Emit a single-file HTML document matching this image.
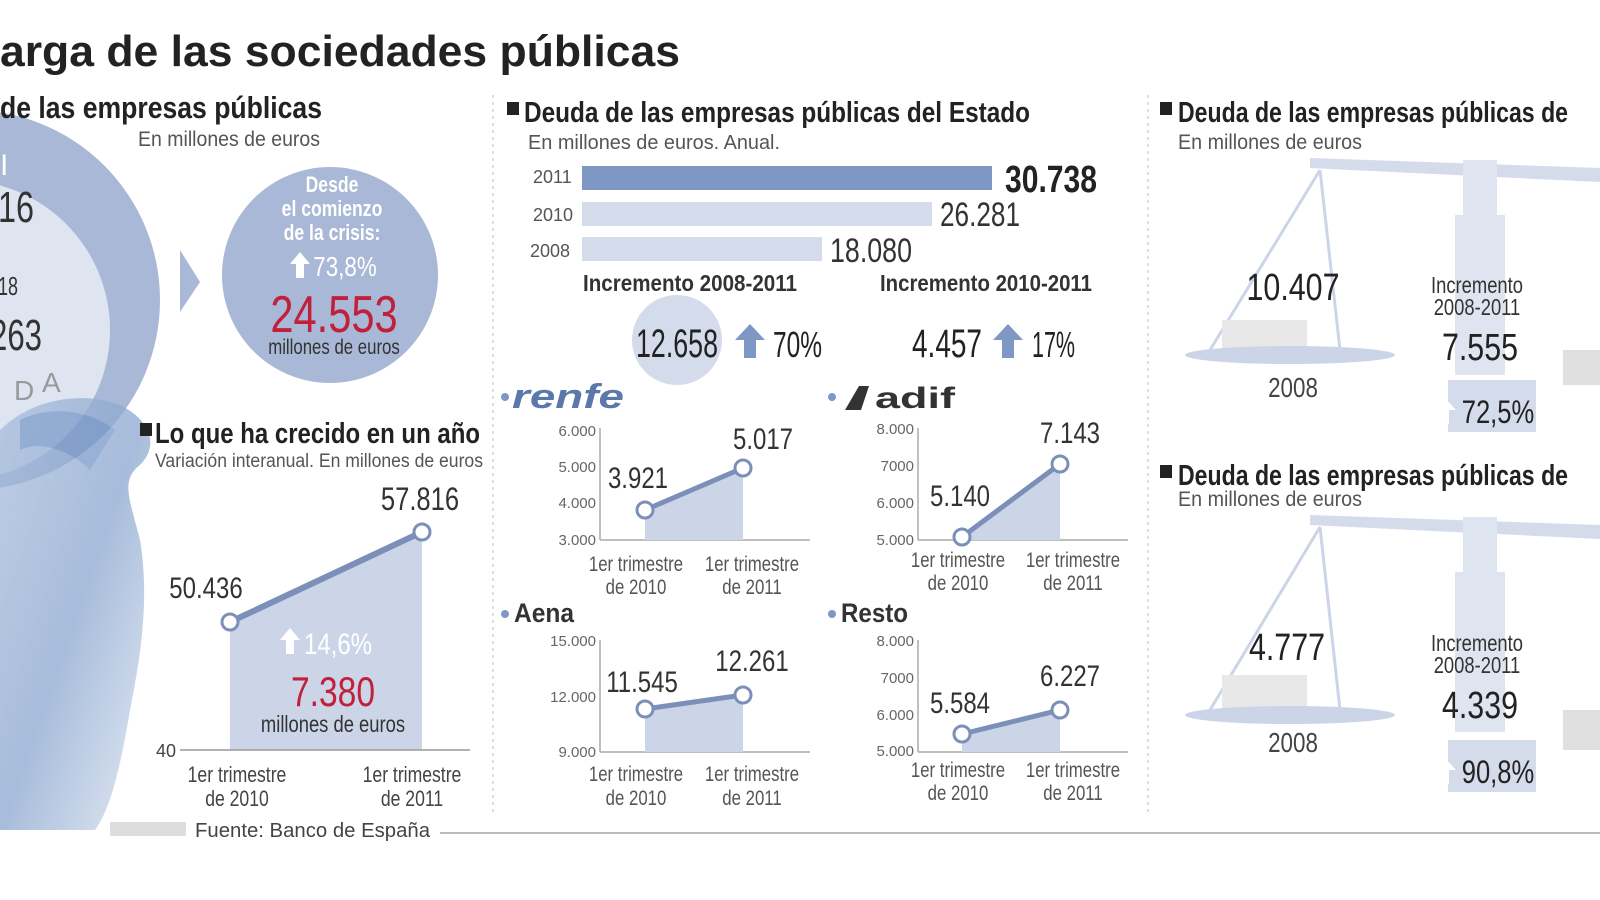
<!DOCTYPE html>
<html><head><meta charset="utf-8"><style>
html,body{margin:0;padding:0;background:#fff;}
svg{display:block;}
text{font-family:"Liberation Sans Narrow","Liberation Sans",sans-serif;}
.s{transform-box:fill-box;transform-origin:center;transform:scaleX(.8);}
</style></head><body>
<svg width="1600" height="900" viewBox="0 0 1600 900" xmlns="http://www.w3.org/2000/svg">
<defs>
<linearGradient id="fig" x1="0" y1="0" x2="1" y2="1"><stop offset="0" stop-color="#a9bedd"/><stop offset="0.5" stop-color="#8aa6cf"/><stop offset="1" stop-color="#dbe4f1"/></linearGradient>
</defs>
<rect width="1600" height="900" fill="#fff"/>
<text x="0" y="66" font-size="44" font-weight="bold" fill="#222" textLength="680" lengthAdjust="spacingAndGlyphs">arga de las sociedades públicas</text>

<circle cx="-30" cy="300" r="190" fill="#a9b8d6"/>
<circle cx="-40" cy="330" r="150" fill="#dfe5f0"/>
<text x="0" y="118" font-size="31" font-weight="bold" fill="#222" textLength="322" lengthAdjust="spacingAndGlyphs">de las empresas públicas</text>
<text x="138" y="146" font-size="21" fill="#555" textLength="182" lengthAdjust="spacingAndGlyphs">En millones de euros</text>
<text x="0" y="175" font-size="30" fill="#fff">I</text>
<text x="-2" y="222" font-size="44" fill="#333" textLength="36" lengthAdjust="spacingAndGlyphs">16</text>
<text x="-2" y="295" font-size="26" fill="#333" textLength="20" lengthAdjust="spacingAndGlyphs">18</text>
<text x="-10" y="350" font-size="44" fill="#333" textLength="52" lengthAdjust="spacingAndGlyphs">263</text>
<text x="14" y="400" font-size="28" fill="#999">D</text>
<text x="42" y="392" font-size="28" fill="#999">A</text>
<path d="M180 250 L200 282 L180 312 Z" fill="#a9b8d6"/>
<circle cx="330" cy="275" r="108" fill="#a9b8d6"/>
<g fill="#fff" font-size="22" font-weight="bold" text-anchor="middle">
<text class="s" x="332" y="192">Desde</text><text class="s" x="332" y="216">el comienzo</text><text class="s" x="332" y="240">de la crisis:</text>
<text class="s" x="345" y="276" font-weight="normal" font-size="28">73,8%</text></g>
<path d="M290 264 l10 -12 l10 12 h-6 v14 h-8 v-14z" fill="#fff"/>
<text class="s" x="334" y="332" font-size="52" fill="#c0203a" text-anchor="middle">24.553</text>
<text class="s" x="334" y="354" font-size="21" fill="#333" text-anchor="middle">millones de euros</text>
<g opacity="0.75">
<path d="M0 430 C30 400 80 390 120 405 C150 420 160 445 140 465 C120 480 130 500 140 540 C150 600 140 660 130 710 C120 770 110 810 95 830 L0 830 Z" fill="url(#fig)"/>
<path d="M20 420 C50 405 90 410 115 430 L90 470 C70 450 40 440 20 450Z" fill="#6b8fc2" opacity="0.7"/>
</g>
<rect x="140" y="423" width="12" height="13" fill="#222"/>
<text x="155" y="443" font-size="29" font-weight="bold" fill="#222" textLength="325" lengthAdjust="spacingAndGlyphs">Lo que ha crecido en un año</text>
<text x="155" y="467" font-size="19" fill="#555" textLength="328" lengthAdjust="spacingAndGlyphs">Variación interanual.  En millones de euros</text>
<path d="M230 622 L422 532 L422 750 L230 750 Z" fill="#ccd5e8"/>
<line x1="230" y1="622" x2="422" y2="532" stroke="#7b8fb8" stroke-width="6"/>
<circle cx="230" cy="622" r="8" fill="#fff" stroke="#7b8fb8" stroke-width="3"/>
<circle cx="422" cy="532" r="8" fill="#fff" stroke="#7b8fb8" stroke-width="3"/>
<line x1="180" y1="750" x2="470" y2="750" stroke="#999" stroke-width="1.5"/>
<text x="176" y="757" font-size="18" fill="#444" text-anchor="end">40</text>
<text class="s" x="206" y="598" font-size="30" fill="#333" text-anchor="middle">50.436</text>
<text class="s" x="420" y="510" font-size="32" fill="#333" text-anchor="middle">57.816</text>
<path d="M280 640 l10 -12 l10 12 h-6 v14 h-8 v-14z" fill="#fff"/>
<text class="s" x="338" y="654" font-size="30" fill="#fff" text-anchor="middle">14,6%</text>
<text class="s" x="333" y="706" font-size="42" fill="#c0203a" text-anchor="middle">7.380</text>
<text class="s" x="333" y="732" font-size="23" fill="#333" text-anchor="middle">millones de euros</text>
<g font-size="22" fill="#444" text-anchor="middle">
<text class="s" x="237" y="782">1er trimestre</text><text class="s" x="237" y="806">de 2010</text>
<text class="s" x="412" y="782">1er trimestre</text><text class="s" x="412" y="806">de 2011</text></g>
<rect x="110" y="822" width="76" height="14" fill="#ddd"/>
<text x="195" y="837" font-size="20" fill="#444" textLength="235" lengthAdjust="spacingAndGlyphs">Fuente: Banco de España</text>
<line x1="440" y1="833" x2="1600" y2="833" stroke="#bbb" stroke-width="2"/>

<line x1="493" y1="95" x2="493" y2="815" stroke="#ddd" stroke-width="2" stroke-dasharray="3 4"/>
<line x1="1148" y1="95" x2="1148" y2="815" stroke="#ddd" stroke-width="2" stroke-dasharray="3 4"/>

<rect x="507" y="102" width="12" height="13" fill="#222"/>
<text x="524" y="122" font-size="29" font-weight="bold" fill="#222" textLength="506" lengthAdjust="spacingAndGlyphs">Deuda de las empresas públicas del Estado</text>
<text x="528" y="149" font-size="20" fill="#555" textLength="252" lengthAdjust="spacingAndGlyphs">En millones de euros.  Anual.</text>
<g font-size="18" fill="#555"><text x="533" y="183">2011</text><text x="533" y="221">2010</text><text x="530" y="257">2008</text></g>
<rect x="582" y="166" width="410" height="24" fill="#7f97c4"/>
<rect x="582" y="202" width="350" height="24" fill="#d4dbea"/>
<rect x="582" y="237" width="240" height="24" fill="#d4dbea"/>
<text x="1005" y="192" font-size="38" font-weight="bold" fill="#222" textLength="92" lengthAdjust="spacingAndGlyphs">30.738</text>
<text x="940" y="226" font-size="34" fill="#333" textLength="80" lengthAdjust="spacingAndGlyphs">26.281</text>
<text x="830" y="262" font-size="34" fill="#333" textLength="82" lengthAdjust="spacingAndGlyphs">18.080</text>
<text x="583" y="291" font-size="23" font-weight="bold" fill="#333" textLength="214" lengthAdjust="spacingAndGlyphs">Incremento 2008-2011</text>
<text x="880" y="291" font-size="23" font-weight="bold" fill="#333" textLength="212" lengthAdjust="spacingAndGlyphs">Incremento 2010-2011</text>
<circle cx="677" cy="340" r="45" fill="#d4dbea"/>
<text x="636" y="357" font-size="40" fill="#222" textLength="82" lengthAdjust="spacingAndGlyphs">12.658</text>
<path d="M735 340 l15 -16 l15 16 h-9 v18 h-12 v-18z" fill="#7f97c4"/>
<text x="773" y="357" font-size="36" fill="#222" textLength="49" lengthAdjust="spacingAndGlyphs">70%</text>
<text x="912" y="357" font-size="40" fill="#222" textLength="70" lengthAdjust="spacingAndGlyphs">4.457</text>
<path d="M993 340 l15 -16 l15 16 h-9 v18 h-12 v-18z" fill="#7f97c4"/>
<text x="1032" y="357" font-size="36" fill="#222" textLength="43" lengthAdjust="spacingAndGlyphs">17%</text>

<circle cx="505" cy="397" r="4" fill="#7f97c4"/>
<text x="512" y="408" font-size="34" font-style="italic" font-weight="bold" fill="#5a78aa" textLength="112" lengthAdjust="spacingAndGlyphs">renfe</text>
<circle cx="832" cy="397" r="4" fill="#7f97c4"/>
<path d="M845 410 l14 -24 l10 0 l-8 24z" fill="#333"/>
<text x="875" y="408" font-size="30" font-weight="bold" fill="#333" textLength="80" lengthAdjust="spacingAndGlyphs">adif</text>

<g font-size="15" fill="#666" text-anchor="end">
<text x="596" y="436">6.000</text><text x="596" y="472">5.000</text><text x="596" y="508">4.000</text><text x="596" y="545">3.000</text>
<text x="914" y="434">8.000</text><text x="914" y="471">7000</text><text x="914" y="508">6.000</text><text x="914" y="545">5.000</text>
<text x="596" y="646">15.000</text><text x="596" y="702">12.000</text><text x="596" y="757">9.000</text>
<text x="914" y="646">8.000</text><text x="914" y="683">7000</text><text x="914" y="720">6.000</text><text x="914" y="756">5.000</text></g>
<g stroke="#aaa" stroke-width="1.5">
<line x1="600" y1="428" x2="600" y2="540"/><line x1="600" y1="540" x2="810" y2="540"/>
<line x1="918" y1="428" x2="918" y2="540"/><line x1="918" y1="540" x2="1128" y2="540"/>
<line x1="600" y1="640" x2="600" y2="752"/><line x1="600" y1="752" x2="810" y2="752"/>
<line x1="918" y1="640" x2="918" y2="752"/><line x1="918" y1="752" x2="1128" y2="752"/></g>
<g fill="#ccd5e8">
<path d="M645 510 L743 468 L743 540 L645 540Z"/>
<path d="M962 537 L1060 464 L1060 540 L962 540Z"/>
<path d="M645 709 L743 695 L743 752 L645 752Z"/>
<path d="M962 734 L1060 710 L1060 752 L962 752Z"/></g>
<g stroke="#7b8fb8" stroke-width="5">
<line x1="645" y1="510" x2="743" y2="468"/><line x1="962" y1="537" x2="1060" y2="464"/>
<line x1="645" y1="709" x2="743" y2="695"/><line x1="962" y1="734" x2="1060" y2="710"/></g>
<g fill="#fff" stroke="#7b8fb8" stroke-width="3">
<circle cx="645" cy="510" r="8"/><circle cx="743" cy="468" r="8"/>
<circle cx="962" cy="537" r="8"/><circle cx="1060" cy="464" r="8"/>
<circle cx="645" cy="709" r="8"/><circle cx="743" cy="695" r="8"/>
<circle cx="962" cy="734" r="8"/><circle cx="1060" cy="710" r="8"/></g>
<g font-size="30" fill="#333" text-anchor="middle">
<text class="s" x="638" y="488">3.921</text><text class="s" x="763" y="449">5.017</text>
<text class="s" x="960" y="506">5.140</text><text class="s" x="1070" y="443">7.143</text>
<text class="s" x="642" y="692">11.545</text><text class="s" x="752" y="671">12.261</text>
<text class="s" x="960" y="713">5.584</text><text class="s" x="1070" y="686">6.227</text></g>
<circle cx="505" cy="614" r="4" fill="#7f97c4"/>
<text x="514" y="622" font-size="27" font-weight="bold" fill="#333" textLength="60" lengthAdjust="spacingAndGlyphs">Aena</text>
<circle cx="832" cy="614" r="4" fill="#7f97c4"/>
<text x="841" y="622" font-size="27" font-weight="bold" fill="#333" textLength="67" lengthAdjust="spacingAndGlyphs">Resto</text>
<g font-size="21" fill="#555" text-anchor="middle">
<text class="s" x="636" y="571">1er trimestre</text><text class="s" x="636" y="594">de 2010</text>
<text class="s" x="752" y="571">1er trimestre</text><text class="s" x="752" y="594">de 2011</text>
<text class="s" x="958" y="567">1er trimestre</text><text class="s" x="958" y="590">de 2010</text>
<text class="s" x="1073" y="567">1er trimestre</text><text class="s" x="1073" y="590">de 2011</text>
<text class="s" x="636" y="781">1er trimestre</text><text class="s" x="636" y="805">de 2010</text>
<text class="s" x="752" y="781">1er trimestre</text><text class="s" x="752" y="805">de 2011</text>
<text class="s" x="958" y="777">1er trimestre</text><text class="s" x="958" y="800">de 2010</text>
<text class="s" x="1073" y="777">1er trimestre</text><text class="s" x="1073" y="800">de 2011</text></g>

<g>
<path d="M1310 158 L1600 168 L1600 182 L1310 168Z" fill="#d4dbea"/>
<rect x="1463" y="160" width="34" height="60" fill="#dfe5f0"/>
<rect x="1455" y="215" width="50" height="160" fill="#dfe5f0"/>
<path d="M1320 170 L1210 350 M1320 170 L1340 350" stroke="#ccd5e8" stroke-width="3" fill="none"/>
<rect x="1222" y="320" width="85" height="30" fill="#e8e8e8"/>
<ellipse cx="1290" cy="355" rx="105" ry="9" fill="#ccd5e8"/>
<rect x="1160" y="102" width="12" height="13" fill="#222"/>
<text x="1178" y="122" font-size="29" font-weight="bold" fill="#222" textLength="390" lengthAdjust="spacingAndGlyphs">Deuda de las empresas públicas de</text>
<text x="1178" y="149" font-size="21" fill="#555" textLength="184" lengthAdjust="spacingAndGlyphs">En millones de euros</text>
<text class="s" x="1293" y="300" font-size="38" fill="#222" text-anchor="middle">10.407</text>
<text class="s" x="1293" y="397" font-size="28" fill="#444" text-anchor="middle">2008</text>
<text class="s" x="1477" y="293" font-size="23" fill="#333" text-anchor="middle">Incremento</text>
<text class="s" x="1477" y="315" font-size="23" fill="#333" text-anchor="middle">2008-2011</text>
<text class="s" x="1480" y="360" font-size="38" fill="#222" text-anchor="middle">7.555</text>
<rect x="1448" y="380" width="88" height="52" fill="#d4dbea"/>
<path d="M1432 410 l12 -13 l12 13 h-7 v14 h-10 v-14z" fill="#fff"/>
<text class="s" x="1498" y="423" font-size="32" fill="#222" text-anchor="middle">72,5%</text>
<rect x="1563" y="350" width="37" height="35" fill="#e0e0e0"/>
</g>
<g>
<path d="M1310 515 L1600 525 L1600 539 L1310 525Z" fill="#d4dbea"/>
<rect x="1463" y="517" width="34" height="60" fill="#dfe5f0"/>
<rect x="1455" y="572" width="50" height="160" fill="#dfe5f0"/>
<path d="M1320 527 L1210 710 M1320 527 L1340 710" stroke="#ccd5e8" stroke-width="3" fill="none"/>
<rect x="1222" y="675" width="85" height="35" fill="#e8e8e8"/>
<ellipse cx="1290" cy="715" rx="105" ry="9" fill="#ccd5e8"/>
<rect x="1160" y="465" width="12" height="13" fill="#222"/>
<text x="1178" y="485" font-size="29" font-weight="bold" fill="#222" textLength="390" lengthAdjust="spacingAndGlyphs">Deuda de las empresas públicas de</text>
<text x="1178" y="506" font-size="21" fill="#555" textLength="184" lengthAdjust="spacingAndGlyphs">En millones de euros</text>
<text class="s" x="1287" y="660" font-size="38" fill="#222" text-anchor="middle">4.777</text>
<text class="s" x="1293" y="752" font-size="28" fill="#444" text-anchor="middle">2008</text>
<text class="s" x="1477" y="651" font-size="23" fill="#333" text-anchor="middle">Incremento</text>
<text class="s" x="1477" y="673" font-size="23" fill="#333" text-anchor="middle">2008-2011</text>
<text class="s" x="1480" y="718" font-size="38" fill="#222" text-anchor="middle">4.339</text>
<rect x="1448" y="740" width="88" height="52" fill="#d4dbea"/>
<path d="M1432 770 l12 -13 l12 13 h-7 v14 h-10 v-14z" fill="#fff"/>
<text class="s" x="1498" y="783" font-size="32" fill="#222" text-anchor="middle">90,8%</text>
<rect x="1563" y="710" width="37" height="40" fill="#e0e0e0"/>
</g>
</svg>
</body></html>
